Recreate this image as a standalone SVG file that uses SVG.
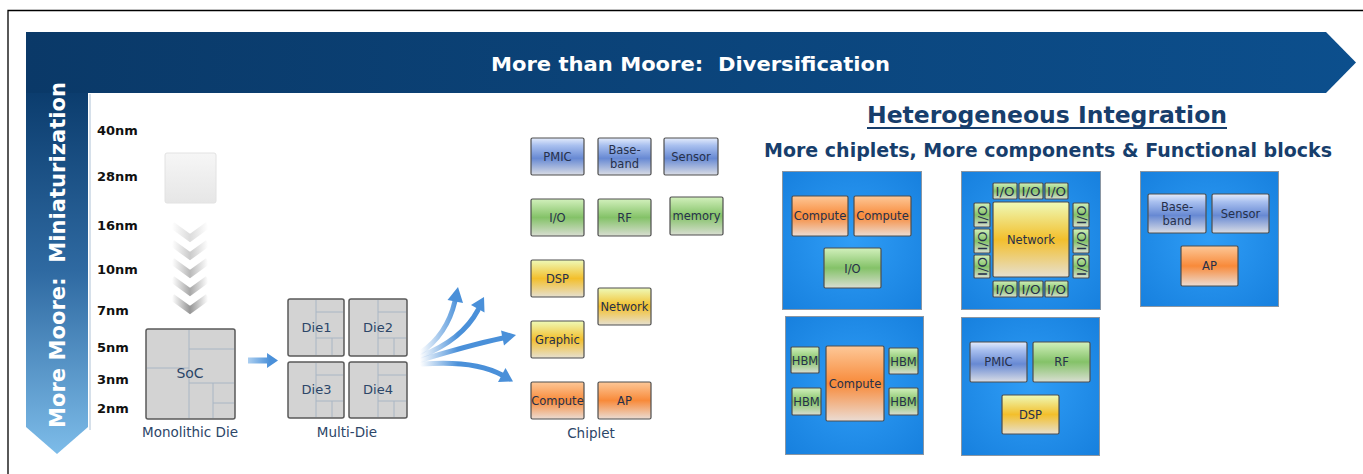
<svg xmlns="http://www.w3.org/2000/svg" width="1363" height="474" viewBox="0 0 1363 474">
<defs>
<style>
.t{font-family:"DejaVu Sans",Verdana,sans-serif}
.nm{font-family:"DejaVu Sans",Verdana,sans-serif;font-weight:bold;font-size:13px;fill:#111}
.chip{stroke:#4e4e4e;stroke-width:1.2}
.ct{font-family:"DejaVu Sans",Verdana,sans-serif;font-size:11.5px;fill:#26304a;text-anchor:middle}
.lbl{font-family:"DejaVu Sans",Verdana,sans-serif;font-size:13.5px;fill:#2c4668;text-anchor:middle}
.pkg{fill:url(#gPkg);stroke:#8a96a3;stroke-width:1}
.die{fill:#d3d3d3;stroke:#5a5a5a;stroke-width:1.5}
.dl{fill:none;stroke:#a9b6c4;stroke-width:1}
.b{fill:url(#gBlue)}.g{fill:url(#gGreen)}.y{fill:url(#gYellow)}.o{fill:url(#gOrange)}
.fan{fill:none;stroke:url(#gFan);stroke-width:5;stroke-linecap:round}
.head{fill:#4a90d9}
.chev{fill:none;stroke:url(#gChev);stroke-width:7}
</style>
<linearGradient id="gBanner" x1="0" y1="0" x2="1" y2="0">
<stop offset="0" stop-color="#0a3968"/><stop offset="1" stop-color="#0c4f8d"/>
</linearGradient>
<linearGradient id="gVert" gradientUnits="userSpaceOnUse" x1="0" y1="90" x2="0" y2="454">
<stop offset="0" stop-color="#0b3c6d"/><stop offset="0.5" stop-color="#2f6aa2"/><stop offset="1" stop-color="#7dbce9"/>
</linearGradient>
<linearGradient id="gBlue" x1="0" y1="0" x2="0" y2="1">
<stop offset="0" stop-color="#e4ecfc"/><stop offset="0.2" stop-color="#a9c0ef"/><stop offset="0.55" stop-color="#6789d3"/><stop offset="1" stop-color="#dadde5"/>
</linearGradient>
<linearGradient id="gGreen" x1="0" y1="0" x2="0" y2="1">
<stop offset="0" stop-color="#d2f0bc"/><stop offset="0.5" stop-color="#84c268"/><stop offset="1" stop-color="#d9ded2"/>
</linearGradient>
<linearGradient id="gYellow" x1="0" y1="0" x2="0" y2="1">
<stop offset="0" stop-color="#eefab8"/><stop offset="0.5" stop-color="#f3bf2c"/><stop offset="1" stop-color="#e6e0d0"/>
</linearGradient>
<linearGradient id="gOrange" x1="0" y1="0" x2="0" y2="1">
<stop offset="0" stop-color="#fdc898"/><stop offset="0.5" stop-color="#f88a3a"/><stop offset="1" stop-color="#ebdcd3"/>
</linearGradient>
<radialGradient id="gPkg" cx="0.5" cy="0.5" r="0.7">
<stop offset="0" stop-color="#2f9df6"/><stop offset="1" stop-color="#1780de"/>
</radialGradient>
<linearGradient id="gSq" x1="0" y1="0" x2="0" y2="1">
<stop offset="0" stop-color="#f6f6f6"/><stop offset="0.5" stop-color="#eeeeee"/><stop offset="1" stop-color="#e6e6e6"/>
</linearGradient>
<linearGradient id="gChev" x1="0" y1="0" x2="1" y2="0">
<stop offset="0" stop-color="#ffffff"/><stop offset="0.5" stop-color="#8a8a8a"/><stop offset="1" stop-color="#ffffff"/>
</linearGradient>
<linearGradient id="gFan" gradientUnits="userSpaceOnUse" x1="420" y1="0" x2="458" y2="0">
<stop offset="0" stop-color="#4a90d9" stop-opacity="0"/><stop offset="1" stop-color="#4a90d9"/>
</linearGradient>
<linearGradient id="gSmall" gradientUnits="userSpaceOnUse" x1="246" y1="0" x2="270" y2="0">
<stop offset="0" stop-color="#b4d4f2"/><stop offset="1" stop-color="#4a90d9"/>
</linearGradient>
</defs>

<rect width="1363" height="474" fill="#ffffff"/>
<path d="M8 474V10.5H1363" fill="none" stroke="#000" stroke-width="1.3"/>

<g id="more-than-moore-banner">
<path d="M26 32H88V427L57 454L26 427Z" fill="url(#gVert)"/>
<path d="M26 32H1326L1356 62.5L1326 93H26Z" fill="url(#gBanner)"/>
<text class="t" x="690.5" y="71" text-anchor="middle" font-size="20" font-weight="bold" fill="#fff" xml:space="preserve" textLength="399" lengthAdjust="spacingAndGlyphs">More than Moore:  Diversification</text>
</g>
<g id="more-moore-arrow">
<text class="t" transform="translate(64.5,255) rotate(-90)" text-anchor="middle" font-size="21" font-weight="bold" fill="#fff" xml:space="preserve" textLength="346" lengthAdjust="spacingAndGlyphs">More Moore:  Miniaturization</text>
</g>
<line x1="90" y1="94" x2="90" y2="430" stroke="#c9d6e3" stroke-width="1.5"/>

<g id="nm-scale">
<text class="nm" x="97" y="135">40nm</text>
<text class="nm" x="97" y="181">28nm</text>
<text class="nm" x="97" y="230">16nm</text>
<text class="nm" x="97" y="274">10nm</text>
<text class="nm" x="97" y="315">7nm</text>
<text class="nm" x="97" y="352">5nm</text>
<text class="nm" x="97" y="384">3nm</text>
<text class="nm" x="97" y="413">2nm</text>
</g>

<g id="shrinking-die">
<rect x="165" y="153" width="51" height="50" rx="2" fill="url(#gSq)" stroke="#e2e2e2" stroke-width="1"/>
<path class="chev" opacity="0.3" d="M172 225L190 238L208 225"/>
<path class="chev" opacity="0.45" d="M172 243L190 256L208 243"/>
<path class="chev" opacity="0.6" d="M172 261L190 274L208 261"/>
<path class="chev" opacity="0.75" d="M172 279L190 292L208 279"/>
<path class="chev" opacity="0.9" d="M172 297L190 310L208 297"/>
</g>

<g id="monolithic-die">
<rect class="die" x="146" y="329" width="89" height="90" rx="2"/>
<path class="dl" d="M189 330V418M147 368H189M189 349H234M189 383H234M213 383V418M213 403H234"/>
<text class="t" x="190" y="378" text-anchor="middle" font-size="14" fill="#2c4668">SoC</text>
<text class="lbl" x="190" y="437">Monolithic Die</text>
</g>

<g id="multi-die">
<rect class="die" x="288" y="299" width="56" height="57" rx="2"/>
<path class="dl" d="M316 300V355M316 312H343M316 338H343M332 338V355"/>
<text class="t" x="316.5" y="331.5" text-anchor="middle" font-size="13" fill="#2c4668">Die1</text>
<rect class="die" x="349" y="299" width="58" height="57" rx="2"/>
<path class="dl" d="M378 300V355M378 312H406M378 338H406M394 338V355"/>
<text class="t" x="378" y="331.5" text-anchor="middle" font-size="13" fill="#2c4668">Die2</text>
<rect class="die" x="288" y="362" width="56" height="56" rx="2"/>
<path class="dl" d="M316 363V417M316 375H343M316 401H343M332 401V417"/>
<text class="t" x="316.5" y="394" text-anchor="middle" font-size="13" fill="#2c4668">Die3</text>
<rect class="die" x="349" y="362" width="58" height="56" rx="2"/>
<path class="dl" d="M378 363V417M378 375H406M378 401H406M394 401V417"/>
<text class="t" x="378" y="394" text-anchor="middle" font-size="13" fill="#2c4668">Die4</text>
<text class="lbl" x="347" y="437">Multi-Die</text>
</g>

<g id="connectors">
<path d="M248 357.5H267V353L278 360.5L267 368V363.5H248Z" fill="url(#gSmall)"/>
<path class="fan" d="M420 353Q447 335 455 301"/>
<path class="head" d="M458 287L447.5 300L463 303Z"/>
<path class="fan" d="M421 356Q462 340 478 310"/>
<path class="head" d="M484 297L471 305L484.5 312.5Z"/>
<path class="fan" d="M421 360Q470 345 503 338"/>
<path class="head" d="M516 335L501 330.5L504 345.5Z"/>
<path class="fan" d="M422 364Q475 360 502 375"/>
<path class="head" d="M513 381.5L505.5 368L498 382Z"/>
</g>

<g id="chiplets">
<g id="c-pmic"><rect class="chip b" x="531" y="138" width="53" height="37" rx="1.5"/><text class="ct" x="557.5" y="160.5">PMIC</text></g>
<g id="c-baseband"><rect class="chip b" x="598" y="138" width="53" height="37" rx="1.5"/><text class="ct" x="624.5" y="154">Base-</text><text class="ct" x="624.5" y="168">band</text></g>
<g id="c-sensor"><rect class="chip b" x="664" y="138" width="54" height="37" rx="1.5"/><text class="ct" x="691" y="160.5">Sensor</text></g>
<g id="c-io"><rect class="chip g" x="531" y="199" width="53" height="37" rx="1.5"/><text class="ct" x="557.5" y="221.5">I/O</text></g>
<g id="c-rf"><rect class="chip g" x="598" y="199" width="53" height="37" rx="1.5"/><text class="ct" x="624.5" y="221.5">RF</text></g>
<g id="c-memory"><rect class="chip g" x="670" y="197" width="53" height="38" rx="1.5"/><text class="ct" x="696.5" y="220">memory</text></g>
<g id="c-dsp"><rect class="chip y" x="531" y="260" width="53" height="37" rx="1.5"/><text class="ct" x="557.5" y="282.5">DSP</text></g>
<g id="c-network"><rect class="chip y" x="598" y="288" width="53" height="37" rx="1.5"/><text class="ct" x="624.5" y="310.5">Network</text></g>
<g id="c-graphic"><rect class="chip y" x="531" y="321" width="53" height="37" rx="1.5"/><text class="ct" x="557.5" y="343.5">Graphic</text></g>
<g id="c-compute"><rect class="chip o" x="531" y="382" width="53" height="37" rx="1.5"/><text class="ct" x="557.5" y="404.5" font-size="11">Compute</text></g>
<g id="c-ap"><rect class="chip o" x="598" y="382" width="53" height="37" rx="1.5"/><text class="ct" x="624.5" y="404.5">AP</text></g>
<text class="lbl" x="591" y="438">Chiplet</text>
</g>

<g id="heading">
<text class="t" x="1047" y="122.5" text-anchor="middle" font-size="23.5" font-weight="bold" fill="#173e6c" textLength="360" lengthAdjust="spacingAndGlyphs">Heterogeneous Integration</text>
<line x1="867" y1="128" x2="1227" y2="128" stroke="#173e6c" stroke-width="2"/>
<text class="t" x="1048" y="157" text-anchor="middle" font-size="19" font-weight="bold" fill="#173e6c" textLength="568" lengthAdjust="spacingAndGlyphs">More chiplets, More components &amp; Functional blocks</text>
</g>

<g id="pkg-compute-io">
<rect class="pkg" x="782.5" y="171.5" width="139" height="138"/>
<rect class="chip o" x="792" y="196" width="56" height="40" rx="1.5"/><text class="ct" x="820" y="220">Compute</text>
<rect class="chip o" x="854" y="196" width="57" height="40" rx="1.5"/><text class="ct" x="882.5" y="220">Compute</text>
<rect class="chip g" x="824" y="248" width="57" height="40" rx="1.5"/><text class="ct" x="852.5" y="272.5" font-size="12">I/O</text>
</g>

<g id="pkg-network">
<rect class="pkg" x="961.5" y="171.5" width="139" height="138"/>
<rect class="chip y" x="993" y="202" width="76" height="75" rx="1.5"/><text class="ct" x="1031" y="243.5">Network</text>
<rect class="chip g" x="993" y="183" width="24" height="16" rx="1"/><text class="ct" x="1005" y="195.5" font-size="12.5" textLength="19" lengthAdjust="spacingAndGlyphs">I/O</text>
<rect class="chip g" x="1019" y="183" width="24" height="16" rx="1"/><text class="ct" x="1031" y="195.5" font-size="12.5" textLength="19" lengthAdjust="spacingAndGlyphs">I/O</text>
<rect class="chip g" x="1045" y="183" width="23" height="16" rx="1"/><text class="ct" x="1056.5" y="195.5" font-size="12.5" textLength="19" lengthAdjust="spacingAndGlyphs">I/O</text>
<rect class="chip g" x="993" y="281" width="24" height="16" rx="1"/><text class="ct" x="1005" y="293.5" font-size="12.5" textLength="19" lengthAdjust="spacingAndGlyphs">I/O</text>
<rect class="chip g" x="1019" y="281" width="24" height="16" rx="1"/><text class="ct" x="1031" y="293.5" font-size="12.5" textLength="19" lengthAdjust="spacingAndGlyphs">I/O</text>
<rect class="chip g" x="1045" y="281" width="23" height="16" rx="1"/><text class="ct" x="1056.5" y="293.5" font-size="12.5" textLength="19" lengthAdjust="spacingAndGlyphs">I/O</text>
<rect class="chip g" x="974" y="203" width="16" height="24" rx="1"/><text class="ct" transform="translate(986.5,215) rotate(-90)" font-size="12.5" textLength="19" lengthAdjust="spacingAndGlyphs">I/O</text>
<rect class="chip g" x="974" y="229" width="16" height="24" rx="1"/><text class="ct" transform="translate(986.5,241) rotate(-90)" font-size="12.5" textLength="19" lengthAdjust="spacingAndGlyphs">I/O</text>
<rect class="chip g" x="974" y="255" width="16" height="23" rx="1"/><text class="ct" transform="translate(986.5,266.5) rotate(-90)" font-size="12.5" textLength="19" lengthAdjust="spacingAndGlyphs">I/O</text>
<rect class="chip g" x="1073" y="203" width="16" height="24" rx="1"/><text class="ct" transform="translate(1085.5,215) rotate(-90)" font-size="12.5" textLength="19" lengthAdjust="spacingAndGlyphs">I/O</text>
<rect class="chip g" x="1073" y="229" width="16" height="24" rx="1"/><text class="ct" transform="translate(1085.5,241) rotate(-90)" font-size="12.5" textLength="19" lengthAdjust="spacingAndGlyphs">I/O</text>
<rect class="chip g" x="1073" y="255" width="16" height="23" rx="1"/><text class="ct" transform="translate(1085.5,266.5) rotate(-90)" font-size="12.5" textLength="19" lengthAdjust="spacingAndGlyphs">I/O</text>
</g>

<g id="pkg-baseband-sensor-ap">
<rect class="pkg" x="1140.5" y="171.5" width="138" height="135"/>
<rect class="chip b" x="1148" y="194" width="58" height="39" rx="1.5"/><text class="ct" x="1177" y="211">Base-</text><text class="ct" x="1177" y="225">band</text>
<rect class="chip b" x="1212" y="194" width="57" height="39" rx="1.5"/><text class="ct" x="1240.5" y="217.5">Sensor</text>
<rect class="chip o" x="1181" y="246" width="57" height="40" rx="1.5"/><text class="ct" x="1209.5" y="270">AP</text>
</g>

<g id="pkg-compute-hbm">
<rect class="pkg" x="785.5" y="316.5" width="138" height="138"/>
<rect class="chip g" x="791" y="347" width="28" height="26" rx="1"/><text class="ct" x="805" y="364.5" font-size="11">HBM</text>
<rect class="chip g" x="792" y="388" width="29" height="27" rx="1"/><text class="ct" x="806.5" y="405.5" font-size="11">HBM</text>
<rect class="chip o" x="826" y="346" width="58" height="75" rx="1.5"/><text class="ct" x="855" y="387.5">Compute</text>
<rect class="chip g" x="889" y="348" width="29" height="26" rx="1"/><text class="ct" x="903.5" y="365.5" font-size="11">HBM</text>
<rect class="chip g" x="889" y="388" width="29" height="27" rx="1"/><text class="ct" x="903.5" y="405.5" font-size="11">HBM</text>
</g>

<g id="pkg-pmic-rf-dsp">
<rect class="pkg" x="961.5" y="317.5" width="138" height="138"/>
<rect class="chip b" x="970" y="342" width="57" height="40" rx="1.5"/><text class="ct" x="998.5" y="366">PMIC</text>
<rect class="chip g" x="1033" y="342" width="57" height="40" rx="1.5"/><text class="ct" x="1061.5" y="366">RF</text>
<rect class="chip y" x="1002" y="395" width="57" height="39" rx="1.5"/><text class="ct" x="1030.5" y="418.5">DSP</text>
</g>
</svg>
